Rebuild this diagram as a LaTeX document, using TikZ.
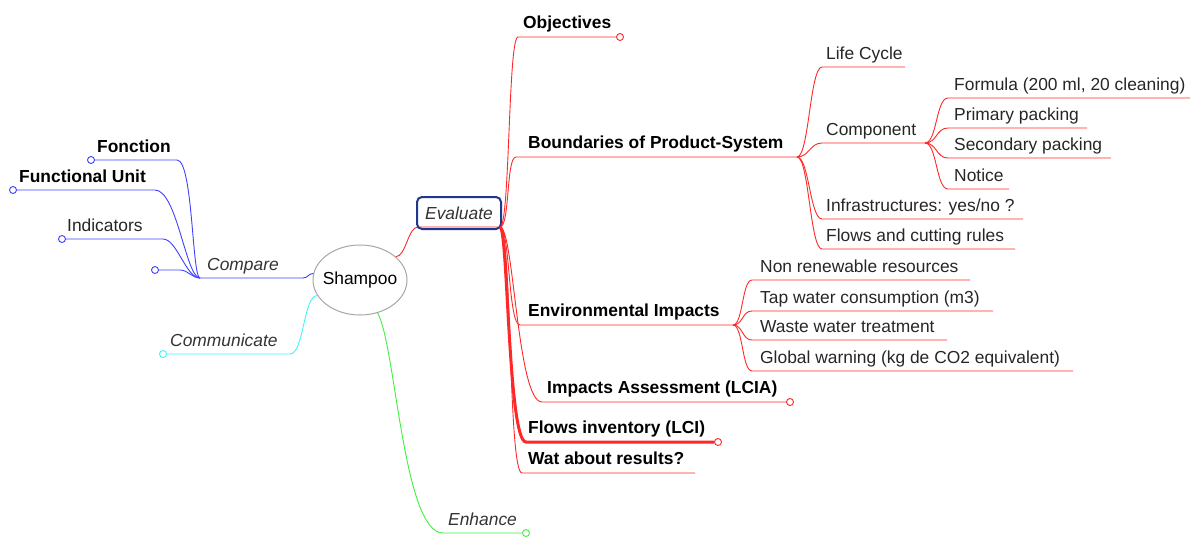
\documentclass[tikz,border=0pt]{standalone}
\usepackage{fontspec}
\setmainfont{Liberation Sans}
\usepackage{tikz}
\usetikzlibrary{shapes.geometric}

\definecolor{evalblue}{RGB}{31,56,140}
\definecolor{mapred}{RGB}{255,40,40}
\definecolor{mapblue}{RGB}{64,64,255}
\definecolor{mapcyan}{RGB}{64,245,250}
\definecolor{mapgreen}{RGB}{64,240,64}

\begin{document}
\begin{tikzpicture}[
  x=1pt, y=-1pt,
  font=\fontsize{17.4}{20}\selectfont,
  txt/.style={anchor=base west, inner sep=0pt, text=black!85},
  head/.style={anchor=base west, inner sep=0pt, font=\fontsize{17.4}{20}\selectfont\bfseries},
  ital/.style={anchor=base west, inner sep=0pt, text=black!80, font=\fontsize{17.4}{20}\selectfont\itshape},
  redline/.style={mapred, line width=0.9pt},
  knob/.style={circle, draw, fill=white, inner sep=0pt, minimum size=7pt, line width=0.9pt}
]
\useasboundingbox (0,0) rectangle (1192,536);

% centre topic and main branch
\node[ellipse, draw=gray!70, line width=1pt, inner sep=0pt, minimum width=94pt, minimum height=70pt] (shampoo) at (360,280) {\makebox[0pt]{Shampoo}};
\coordinate (eval-in) at (418,227);
\coordinate (eval-out) at (500,227);
\draw[redline] (shampoo.33) .. controls +(10,0) and +(-10,0) .. (eval-in) -- (eval-out);
\node[draw=evalblue, line width=2pt, rounded corners=5pt, minimum width=84pt, minimum height=32pt,
  font=\fontsize{17.4}{20}\selectfont\itshape, text=black!80] (evaluate) at (459,213) {Evaluate};

% Evaluate -> Objectives
\coordinate (obj-in) at (518,37);
\node[knob, draw=mapred] (obj-end) at (620,37) {};
\draw[redline] (eval-out) .. controls +(10,0) and +(-10,0) .. (obj-in) -- (obj-end);
\node[head] (obj) at (523,28) {Objectives};

% Evaluate -> Boundaries of Product-System
\coordinate (bps-in) at (516,157);
\coordinate (bps-out) at (797,157);
\draw[redline] (eval-out) .. controls +(10,0) and +(-10,0) .. (bps-in) -- (bps-out);
\node[head] (bps) at (528,148) {Boundaries of Product-System};

\coordinate (life-in) at (822,67);
\coordinate (life-end) at (905,67);
\draw[redline] (bps-out) .. controls +(12,0) and +(-12,0) .. (life-in) -- (life-end);
\node[txt] (life) at (826,59) {Life Cycle};

\coordinate (comp-in) at (822,143);
\coordinate (comp-out) at (925,143);
\draw[redline] (bps-out) .. controls +(12,0) and +(-12,0) .. (comp-in) -- (comp-out);
\node[txt] (comp) at (826,135) {Component};

\coordinate (infra-in) at (822,219);
\coordinate (infra-end) at (1023,219);
\draw[redline] (bps-out) .. controls +(12,0) and +(-12,0) .. (infra-in) -- (infra-end);
\node[txt] (infra) at (826,211) {Infrastructures: yes/no ?};

\coordinate (cut-in) at (822,249);
\coordinate (cut-end) at (1015,249);
\draw[redline] (bps-out) .. controls +(12,0) and +(-12,0) .. (cut-in) -- (cut-end);
\node[txt] (cut) at (826,241) {Flows and cutting rules};

% Component leaves
\coordinate (formula-in) at (948,98);
\coordinate (formula-end) at (1190,98);
\draw[redline] (comp-out) .. controls +(12,0) and +(-12,0) .. (formula-in) -- (formula-end);
\node[txt] (formula) at (954,90) {Formula (200 ml, 20 cleaning)};

\coordinate (prim-in) at (948,128);
\coordinate (prim-end) at (1087,128);
\draw[redline] (comp-out) .. controls +(12,0) and +(-12,0) .. (prim-in) -- (prim-end);
\node[txt] (prim) at (954,120) {Primary packing};

\coordinate (sec-in) at (948,158);
\coordinate (sec-end) at (1111,158);
\draw[redline] (comp-out) .. controls +(12,0) and +(-12,0) .. (sec-in) -- (sec-end);
\node[txt] (sec) at (954,150) {Secondary packing};

\coordinate (notice-in) at (948,189);
\coordinate (notice-end) at (1009,189);
\draw[redline] (comp-out) .. controls +(12,0) and +(-12,0) .. (notice-in) -- (notice-end);
\node[txt] (notice) at (954,181) {Notice};

% Evaluate -> Environmental Impacts
\coordinate (env-in) at (520,325);
\coordinate (env-out) at (733,325);
\draw[redline] (eval-out) .. controls +(10,0) and +(-12,0) .. (env-in) -- (env-out);
\node[head] (env) at (528,316) {Environmental Impacts};

\coordinate (nonren-in) at (752,280);
\coordinate (nonren-end) at (970,280);
\draw[redline] (env-out) .. controls +(10,0) and +(-10,0) .. (nonren-in) -- (nonren-end);
\node[txt] (nonren) at (760,272) {Non renewable resources};

\coordinate (tap-in) at (752,311);
\coordinate (tap-end) at (993,311);
\draw[redline] (env-out) .. controls +(10,0) and +(-10,0) .. (tap-in) -- (tap-end);
\node[txt] (tap) at (760,303) {Tap water consumption (m3)};

\coordinate (waste-in) at (752,340);
\coordinate (waste-end) at (947,340);
\draw[redline] (env-out) .. controls +(10,0) and +(-10,0) .. (waste-in) -- (waste-end);
\node[txt] (waste) at (760,332) {Waste water treatment};

\coordinate (glob-in) at (752,371);
\coordinate (glob-end) at (1073,371);
\draw[redline] (env-out) .. controls +(10,0) and +(-10,0) .. (glob-in) -- (glob-end);
\node[txt] (glob) at (760,363) {Global warning (kg de CO2 equivalent)};

% Evaluate -> LCIA, LCI, results
\coordinate (lcia-in) at (542,402);
\node[knob, draw=mapred] (lcia-end) at (790,402) {};
\draw[redline] (eval-out) .. controls +(14,0) and +(-25,0) .. (lcia-in) -- (lcia-end);
\node[head] (lcia) at (547,393) {Impacts Assessment (LCIA)};

\coordinate (lci-in) at (526,442);
\node[knob, draw=mapred] (lci-end) at (718,442) {};
\draw[mapred, line width=3pt] (eval-out) .. controls +(8,0) and +(-18,0) .. (lci-in) -- (lci-end.west);
\node[head] (lci) at (528,433) {Flows inventory (LCI)};

\coordinate (res-in) at (522,473);
\coordinate (res-end) at (695,473);
\draw[redline] (eval-out) .. controls +(12,0) and +(-14,0) .. (res-in) -- (res-end);
\node[head] (res) at (528,464) {Wat about results?};

% Compare branch
\coordinate (cmp-in) at (303,278);
\coordinate (cmp-out) at (200,278);
\draw[mapblue, line width=0.9pt] (shampoo.172) .. controls +(-5,0) and +(5,0) .. (cmp-in) -- (cmp-out);
\node[ital] (cmp) at (207,270) {Compare};

\coordinate (fct-in) at (177,160);
\node[knob, draw=mapblue] (fct-end) at (91,160) {};
\draw[mapblue, line width=0.9pt] (cmp-out) .. controls +(-8,0) and +(16,0) .. (fct-in) -- (fct-end);
\node[head] (fct) at (97,152) {Fonction};

\coordinate (fu-in) at (155,190);
\node[knob, draw=mapblue] (fu-end) at (13,190) {};
\draw[mapblue, line width=0.9pt] (cmp-out) .. controls +(-14,0) and +(22,0) .. (fu-in) -- (fu-end);
\node[head] (fu) at (19,182) {Functional Unit};

\coordinate (ind-in) at (163,239);
\node[knob, draw=mapblue] (ind-end) at (62,239) {};
\draw[mapblue, line width=0.9pt] (cmp-out) .. controls +(-14,0) and +(14,0) .. (ind-in) -- (ind-end);
\node[txt] (ind) at (67,231) {Indicators};

\coordinate (blank-in) at (180,270);
\node[knob, draw=mapblue] (blank-end) at (155,270) {};
\draw[mapblue, line width=0.9pt] (cmp-out) .. controls +(-8,0) and +(8,0) .. (blank-in) -- (blank-end);

% Communicate branch
\coordinate (com-in) at (290,354);
\node[knob, draw=mapcyan] (com-end) at (163,354) {};
\draw[mapcyan, line width=0.9pt] (shampoo.200) .. controls +(-14,0) and +(14,0) .. (com-in) -- (com-end);
\node[ital] (com) at (170,346) {Communicate};

% Enhance branch
\coordinate (enh-in) at (443,533);
\node[knob, draw=mapgreen] (enh-end) at (526,533) {};
\draw[mapgreen, line width=0.9pt] (shampoo.-62) .. controls +(18,30) and +(-40,0) .. (enh-in) -- (enh-end);
\node[ital] (enh) at (448,525) {Enhance};
\end{tikzpicture}
\end{document}
